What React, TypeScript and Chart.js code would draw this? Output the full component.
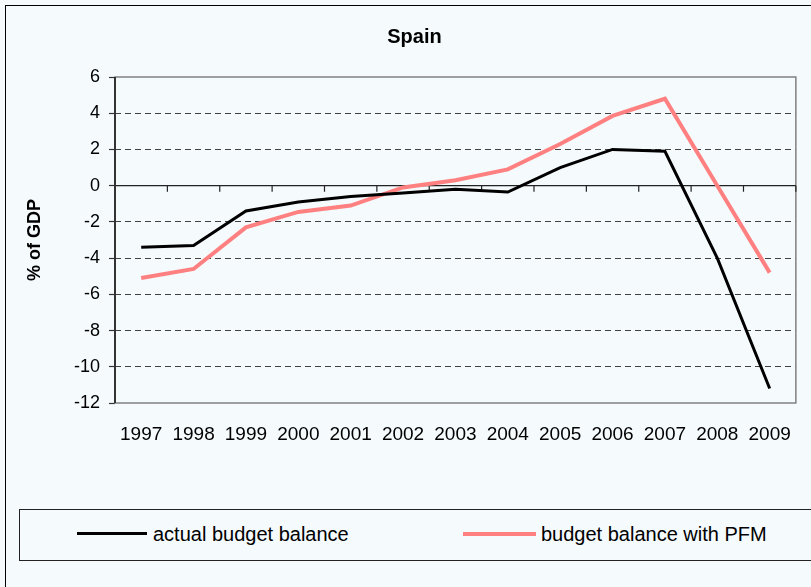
import React, { useEffect, useRef } from "react";
import { Chart, registerables } from "chart.js";

Chart.register(...registerables);

const years = ["1997", "1998", "1999", "2000", "2001", "2002", "2003", "2004", "2005", "2006", "2007", "2008", "2009"];
const actualBalance = [-3.4, -3.3, -1.4, -0.9, -0.6, -0.4, -0.2, -0.35, 1.0, 2.0, 1.9, -4.0, -11.2];
const pfmBalance = [-5.1, -4.6, -2.3, -1.45, -1.1, -0.1, 0.3, 0.9, 2.3, 3.85, 4.8, 0.0, -4.8];
const seriesLabels = ["actual budget balance", "budget balance with PFM"];
const seriesColors = ["#000000", "#ff8080"];
const yMin = -12;
const yMax = 6;
const yStep = 2;

const FONT = "Arial, 'Liberation Sans', sans-serif";

const framePlugin = {
  id: "frame",
  beforeDatasetsDraw(chart: any) {
    const { ctx, chartArea, scales } = chart;
    const x = scales.x;
    const y = scales.y;
    ctx.save();
    // plot frame (gray)
    ctx.strokeStyle = "#808080";
    ctx.lineWidth = 1.5;
    ctx.strokeRect(chartArea.left, chartArea.top, chartArea.right - chartArea.left, chartArea.bottom - chartArea.top);
    // zero axis line with category ticks
    const y0 = y.getPixelForValue(0);
    ctx.strokeStyle = "#222";
    ctx.lineWidth = 1.2;
    ctx.beginPath();
    ctx.moveTo(chartArea.left, y0);
    ctx.lineTo(chartArea.right, y0);
    const n = chart.data.labels.length;
    const half = (x.getPixelForValue(1) - x.getPixelForValue(0)) / 2;
    for (let i = 0; i <= n; i++) {
      const px = x.getPixelForValue(i) - half;
      ctx.moveTo(px, y0);
      ctx.lineTo(px, y0 + 6);
    }
    ctx.stroke();
    // left axis
    ctx.strokeStyle = "#333";
    ctx.lineWidth = 2;
    ctx.beginPath();
    ctx.moveTo(chartArea.left, chartArea.top);
    ctx.lineTo(chartArea.left, chartArea.bottom);
    ctx.stroke();
    ctx.restore();
  },
};

export default function App() {
  const ref = useRef<HTMLCanvasElement | null>(null);

  useEffect(() => {
    if (!ref.current) return;
    const chart = new Chart(ref.current, {
      type: "line",
      data: {
        labels: years,
        datasets: [
          {
            label: seriesLabels[0],
            data: actualBalance,
            borderColor: seriesColors[0],
            backgroundColor: seriesColors[0],
            borderWidth: 3,
            pointRadius: 0,
            tension: 0,
          },
          {
            label: seriesLabels[1],
            data: pfmBalance,
            borderColor: seriesColors[1],
            backgroundColor: seriesColors[1],
            borderWidth: 4,
            pointRadius: 0,
            tension: 0,
          },
        ],
      },
      options: {
        responsive: false,
        animation: false,
        devicePixelRatio: 1,
        layout: { padding: { left: 23, right: 5, top: 0, bottom: 27 } },
        plugins: {
          legend: { display: false },
          tooltip: { enabled: false },
          title: {
            display: true,
            text: "Spain",
            color: "#000",
            font: { family: FONT, size: 20, weight: "bold" },
            padding: { top: 25, bottom: 28 },
          },
        },
        scales: {
          x: {
            type: "category",
            offset: true,
            grid: { display: false, drawTicks: false },
            border: { display: false },
            ticks: {
              color: "#000",
              font: { family: FONT, size: 19 },
              padding: 20,
              maxRotation: 0,
              autoSkip: false,
            },
            afterFit: (s: any) => {
              s.height = 40;
            },
          },
          y: {
            min: yMin,
            max: yMax,
            border: { display: false, dash: (ctx: any) => (ctx.tick && ctx.tick.value !== 0 ? [6, 4] : []) },
            grid: {
              color: (ctx: any) => {
                const v = ctx.tick ? ctx.tick.value : null;
                if (v === yMin || v === yMax || v === 0) return "rgba(0,0,0,0)";
                return "#404040";
              },
              lineWidth: 1,
              tickLength: 6,
              tickColor: "#333",
              tickWidth: 1.2,
            },
            ticks: {
              stepSize: yStep,
              color: "#000",
              font: { family: FONT, size: 18 },
              padding: 9,
            },
            title: {
              display: true,
              text: "% of GDP",
              color: "#000",
              font: { family: FONT, size: 18, weight: "bold" },
              padding: { top: 1, bottom: 0 },
            },
            afterFit: (s: any) => {
              s.width = 92;
            },
          },
        },
      },
      plugins: [framePlugin],
    });
    return () => chart.destroy();
  }, []);

  const legendText: React.CSSProperties = {
    position: "absolute",
    fontFamily: FONT,
    fontSize: 20,
    color: "#000",
    lineHeight: "24px",
    top: 522,
    whiteSpace: "nowrap",
  };

  return (
    <div
      style={{
        position: "fixed",
        left: 0,
        top: 0,
        width: 811,
        height: 587,
        overflow: "hidden",
        background: "#f5fafd",
      }}
    >
      <div
        style={{
          position: "absolute",
          left: 5,
          top: 5,
          width: 820,
          height: 600,
          border: "1px solid #000",
          boxSizing: "border-box",
        }}
      />
      <canvas ref={ref} width={811} height={470} style={{ position: "absolute", left: 0, top: 0 }} />
      <div
        style={{
          position: "absolute",
          left: 19,
          top: 509,
          width: 820,
          height: 52,
          border: "1px solid #222",
          boxSizing: "border-box",
        }}
      />
      <div style={{ position: "absolute", left: 77, top: 532, width: 70, height: 3, background: seriesColors[0] }} />
      <div style={{ ...legendText, left: 153 }}>{seriesLabels[0]}</div>
      <div style={{ position: "absolute", left: 463, top: 532, width: 73, height: 4, background: seriesColors[1] }} />
      <div style={{ ...legendText, left: 541 }}>{seriesLabels[1]}</div>
    </div>
  );
}
